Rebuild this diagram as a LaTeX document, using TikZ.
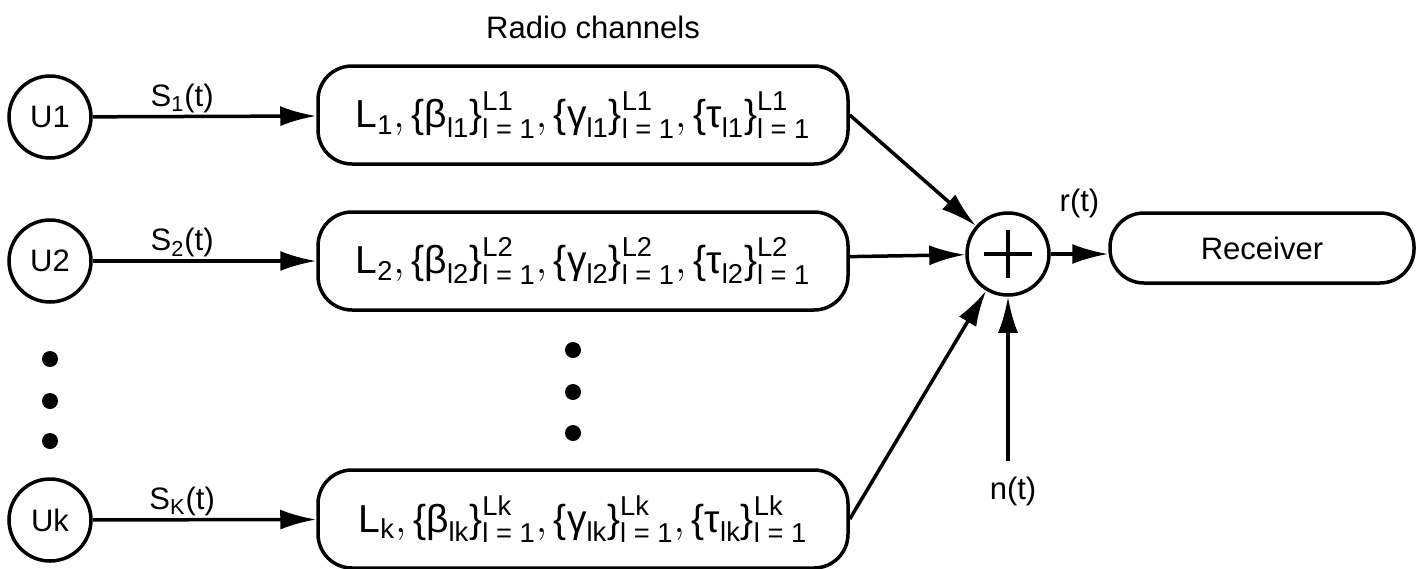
\documentclass[tikz,border=0pt]{standalone}
\usepackage{amsmath}
\usepackage{fontspec}
\setmainfont{Liberation Sans}
\usetikzlibrary{positioning,arrows.meta,calc}

% channel parameter set of user #1
\newcommand{\chanpar}[1]{$\text{L}_{\text{#1}},\text{\{β}_{\text{l#1}}\text{\}}^{\text{L#1}}_{\text{l = 1}},\text{\{γ}_{\text{l#1}}\text{\}}^{\text{L#1}}_{\text{l = 1}},\text{\{τ}_{\text{l#1}}\text{\}}^{\text{L#1}}_{\text{l = 1}}$}

\begin{document}
\begin{tikzpicture}[x=0.5pt,y=-0.5pt,line width=1.75pt,font=\fontsize{15.5}{18}\selectfont,
  >={Latex[length=18pt,width=10pt]},
  user/.style={draw,circle,minimum size=41pt,inner sep=0pt},
  chan/.style={draw,rounded corners=17pt,minimum width=265pt,minimum height=49pt,font=\fontsize{19.5}{22}\selectfont},
  rcvbox/.style={draw,rounded corners=17pt,minimum width=152pt,minimum height=35pt},
  sumnode/.style={draw,circle,minimum size=41pt,inner sep=0pt},
  sig/.style={inner sep=1pt}]
\useasboundingbox (0,0) rectangle (1416,568);
\node (title) at (593,27) {Radio channels};
\node[user] (u1) at (50,117) {U1};
\node[user] (u2) at (50,261) {U2};
\node[user] (uk) at (50,520) {Uk};
\node[chan] (c1) at (583,115) {\chanpar{1}};
\node[chan] (c2) at (583,261) {\chanpar{2}};
\node[chan] (ck) at (583,519) {\chanpar{k}};
\node[sumnode] (sum) at (1008,254) {};
\draw ([xshift=-12pt]sum.center) -- ([xshift=12pt]sum.center);
\draw ([yshift=-12pt]sum.center) -- ([yshift=12pt]sum.center);
\node[rcvbox] (rcv) at (1262,248) {Receiver};
\node[inner sep=7pt] (nt) at (1013,491) {n(t)};
% users to channels
\draw[->] (u1) -- node[sig,above,pos=0.4] (s1) {$\text{S}_{\text{1}}$(t)} (c1);
\draw[->] (u2) -- node[sig,above,pos=0.4] (s2) {$\text{S}_{\text{2}}$(t)} (c2);
\draw[->] (uk) -- node[sig,above,pos=0.4] (sk) {$\text{S}_{\text{K}}$(t)} (ck);
% dots
\foreach \y in {359,401,441} \fill (50,\y) circle (4pt);
\foreach \y in {350,392,433} \fill (573,\y) circle (4pt);
% channels to sum
\draw[->] (c1.east) -- (sum);
\draw[->] (c2) -- (sum);
\draw[->] (ck.east) -- (sum);
\draw[->] (sum.east) -- node[above=14pt] (rt) {r(t)} (sum.east -| rcv.west);
\draw[->] (sum.south |- nt.north) -- (sum.south);
\end{tikzpicture}
\end{document}
